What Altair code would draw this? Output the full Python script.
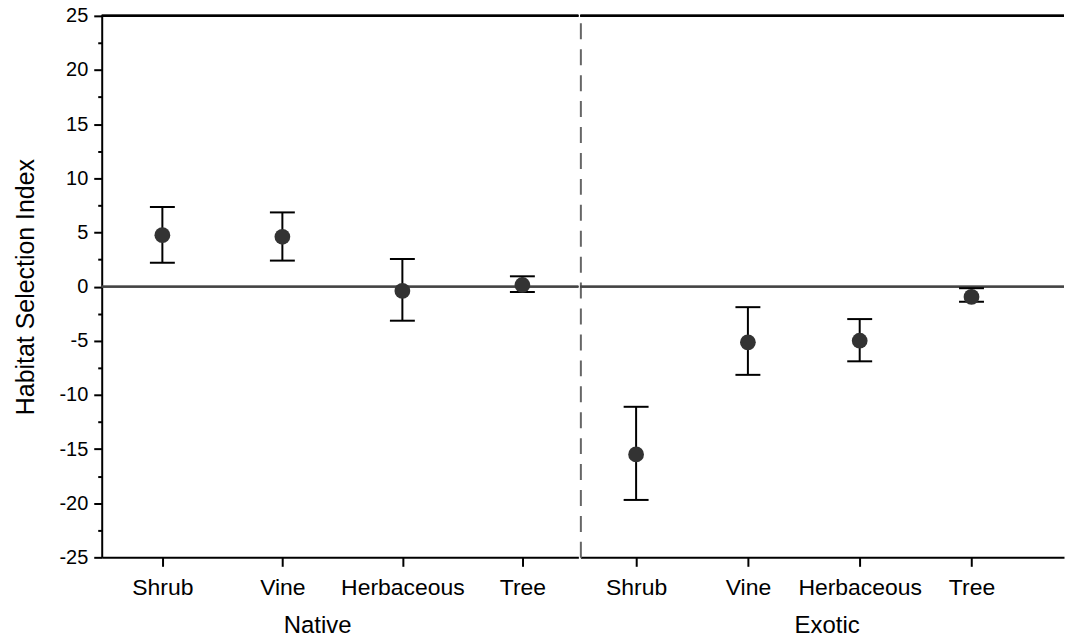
import altair as alt
import pandas as pd

# ---- data ----
plant_types = ["Shrub", "Vine", "Herbaceous", "Tree"]

native_mean = [4.75, 4.6, -0.4, 0.15]
native_lower = [2.2, 2.4, -3.15, -0.5]
native_upper = [7.35, 6.85, 2.55, 0.95]

exotic_mean = [-15.5, -5.15, -5.0, -0.95]
exotic_lower = [-19.7, -8.15, -6.9, -1.4]
exotic_upper = [-11.1, -1.9, -3.0, -0.15]

y_domain = [-25, 25]
y_tick_values = [-25 + 2.5 * i for i in range(21)]

FONT = "Liberation Sans"
PLOT_H = 543


def panel(group, mean, lower, upper, width, x_scale, title_x, left):
    df = pd.DataFrame({"type": plant_types, "mean": mean,
                       "lower": lower, "upper": upper})
    x_axis = alt.Axis(
        title=group, labelAngle=0, labelFontSize=23, labelColor="black",
        labelBaseline="alphabetic", labelPadding=28,
        tickSize=9, tickWidth=2, tickColor="black",
        domainColor="black", domainWidth=2,
        titleFontSize=24, titleFontWeight="normal", titleColor="black",
        titleX=title_x, titleY=75, titleBaseline="alphabetic", titleAlign="center",
    )
    x = alt.X("type:N", sort=plant_types, scale=x_scale, axis=x_axis)
    y_scale = alt.Scale(domain=y_domain, nice=False, zero=False)
    if left:
        y_axis = alt.Axis(
            values=y_tick_values,
            labelExpr="datum.value % 5 === 0 ? toString(datum.value) : ''",
            tickSize={"condition": {"test": "datum.value % 5 === 0", "value": 8}, "value": 4},
            tickWidth=2, tickColor="black",
            domainColor="black", domainWidth=2,
            labelFontSize=20, labelColor="black", labelPadding=6,
            title="Habitat Selection Index", titleFontSize=25,
            titleFontWeight="normal", titleColor="black",
            titleX=-68, titleBaseline="alphabetic",
        )
    else:
        y_axis = alt.Axis(labels=False, ticks=False, title=None,
                          domainDash=[16, 10], domainColor="#666666",
                          domainWidth=2)

    base = alt.Chart(df)
    zero = base.mark_rule(color="#444444", strokeWidth=1.8).encode(
        y=alt.YDatum(0, scale=y_scale, axis=y_axis))
    top = base.mark_rule(color="black", strokeWidth=2).encode(
        y=alt.YDatum(25, scale=y_scale, axis=y_axis))
    bars = base.mark_rule(color="black", strokeWidth=2).encode(
        x=x, y=alt.Y("lower:Q", scale=y_scale, axis=y_axis), y2="upper:Q")
    cap_lo = base.mark_tick(color="black", thickness=2, size=25, opacity=1).encode(
        x=x, y=alt.Y("lower:Q", scale=y_scale, axis=y_axis))
    cap_hi = base.mark_tick(color="black", thickness=2, size=25, opacity=1).encode(
        x=x, y=alt.Y("upper:Q", scale=y_scale, axis=y_axis))
    pts = base.mark_circle(size=250, color="#333333", opacity=1).encode(
        x=x, y=alt.Y("mean:Q", scale=y_scale, axis=y_axis))
    return alt.layer(zero, top, bars, cap_lo, cap_hi, pts).properties(
        width=width, height=PLOT_H)


left_panel = panel("Native", native_mean, native_lower, native_upper, 478,
                   alt.Scale(type="point", padding=0.486, align=0.52), 216, True)
right_panel = panel("Exotic", exotic_mean, exotic_lower, exotic_upper, 485,
                    alt.Scale(type="point", padding=0.663, align=0.376), 247, False)

chart = alt.hconcat(left_panel, right_panel, spacing=0).properties(
    padding={"left": 14, "top": 5, "right": 0, "bottom": 0}
).configure_view(stroke=None).configure_axis(
    labelFont=FONT, titleFont=FONT, grid=False
)

chart.save("out.html", embed_options={"renderer": "svg", "actions": False})
